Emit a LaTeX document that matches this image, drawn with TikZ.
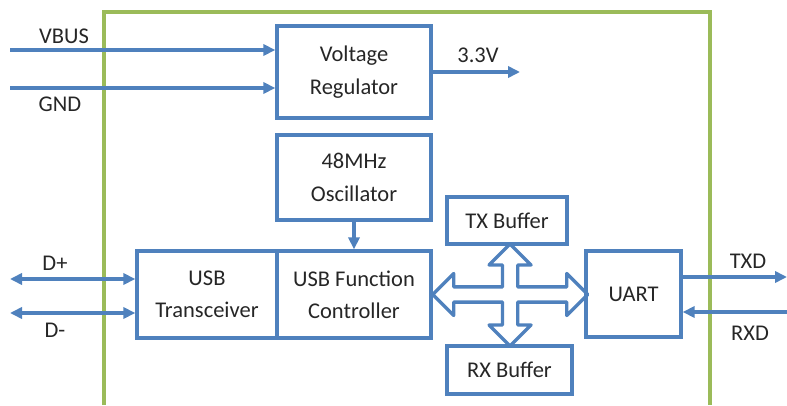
\documentclass[tikz,border=0pt]{standalone}
\usepackage{fontspec}
\setmainfont{Carlito}
\usetikzlibrary{arrows.meta,positioning,calc}
\definecolor{usbblue}{HTML}{4F81BD}
\definecolor{usbgreen}{HTML}{9BBB59}
\definecolor{usbtext}{HTML}{262626}
\tikzstyle{block} = [draw=usbblue, line width=2.4pt, text=usbtext, align=center, inner sep=0pt]
\tikzstyle{lbl} = [text=usbtext, inner sep=0pt]
\tikzstyle{sig} = [-{Triangle[length=3mm,width=2.8mm]}, line width=2.4pt, usbblue]
\tikzstyle{bisig} = [{Triangle[length=3mm,width=2.8mm]}-{Triangle[length=3mm,width=2.8mm]}, line width=2.4pt, usbblue]

\begin{document}
\begin{tikzpicture}[font=\fontsize{16}{23}\selectfont]
\useasboundingbox (0,0) rectangle (19.675,10.125);
% chip outline
\draw[usbgreen, line width=2.4pt] (2.6,0) -- (2.6,9.825) -- (17.75,9.825) -- (17.75,0);
% blocks
\node[block, minimum width=3.85cm, minimum height=2.3cm] at (8.85,8.325) (reg) {Voltage\\Regulator};
\node[block, minimum width=3.85cm, minimum height=2.125cm] at (8.85,5.6875) (osc) {48MHz\\Oscillator};
\node[block, minimum width=3.5cm, minimum height=2.175cm] at (5.175,2.7625) (usbt) {USB\\Transceiver};
\node[block, minimum width=3.85cm, minimum height=2.175cm] at (8.85,2.7625) (usbf) {USB Function\\Controller};
\node[block, minimum width=3.0cm, minimum height=1.175cm] at (12.675,4.6125) (tx) {TX Buffer};
\node[block, minimum width=3.125cm, minimum height=1.2cm] at (12.7375,0.875) (rx) {RX Buffer};
\node[block, minimum width=2.375cm, minimum height=2.15cm] at (15.8375,2.775) (uart) {UART};
% power
\coordinate (vbus) at (0.25,8.875);
\coordinate (gnd) at (0.25,7.925);
\coordinate (vout) at (13.0,8.325);
\draw[sig] (vbus) -- (vbus -| reg.west);
\draw[sig] (gnd) -- (gnd -| reg.west);
\draw[sig] (reg.east) -- (vout);
\node[lbl] at (1.6,9.225) (vbuslbl) {VBUS};
\node[lbl] at (1.5,7.525) (gndlbl) {GND};
\node[lbl] at (11.95,8.75) (voutlbl) {3.3V};
% clock
\draw[sig] (osc.south) -- (usbf.north);
% usb lines
\coordinate (dp) at (0.25,3.15);
\coordinate (dm) at (0.25,2.3);
\draw[bisig] (dp) -- (dp -| usbt.west);
\draw[bisig] (dm) -- (dm -| usbt.west);
\node[lbl] at (1.375,3.55) (dplbl) {D+};
\node[lbl] at (1.375,1.875) (dmlbl) {D-};
% uart lines
\coordinate (txd) at (19.675,3.2);
\coordinate (rxd) at (19.675,2.325);
\draw[sig] (txd -| uart.east) -- (txd);
\draw[sig] (rxd) -- (rxd -| uart.east);
\node[lbl] at (18.7,3.6) (txdlbl) {TXD};
\node[lbl] at (18.75,1.8) (rxdlbl) {RXD};
% buffer cross
\draw[usbblue, line width=2.4pt, line join=round] (usbf.east)
  -- ++(0.525,0.525) -- ++(0,-0.335) -- ++(1.22,0) -- ++(0,0.5475)
  -- ++(-0.335,0) -- ++(0.525,0.525) -- ++(0.525,-0.525) -- ++(-0.335,0)
  -- ++(0,-0.5475) -- ++(1.225,0) -- ++(0,0.335) -- ++(0.525,-0.525)
  -- ++(-0.525,-0.525) -- ++(0,0.335) -- ++(-1.225,0) -- ++(0,-0.5725)
  -- ++(0.335,0) -- ++(-0.525,-0.525) -- ++(-0.525,0.525) -- ++(0.335,0)
  -- ++(0,0.5725) -- ++(-1.22,0) -- ++(0,-0.335) -- cycle;
\end{tikzpicture}
\end{document}
